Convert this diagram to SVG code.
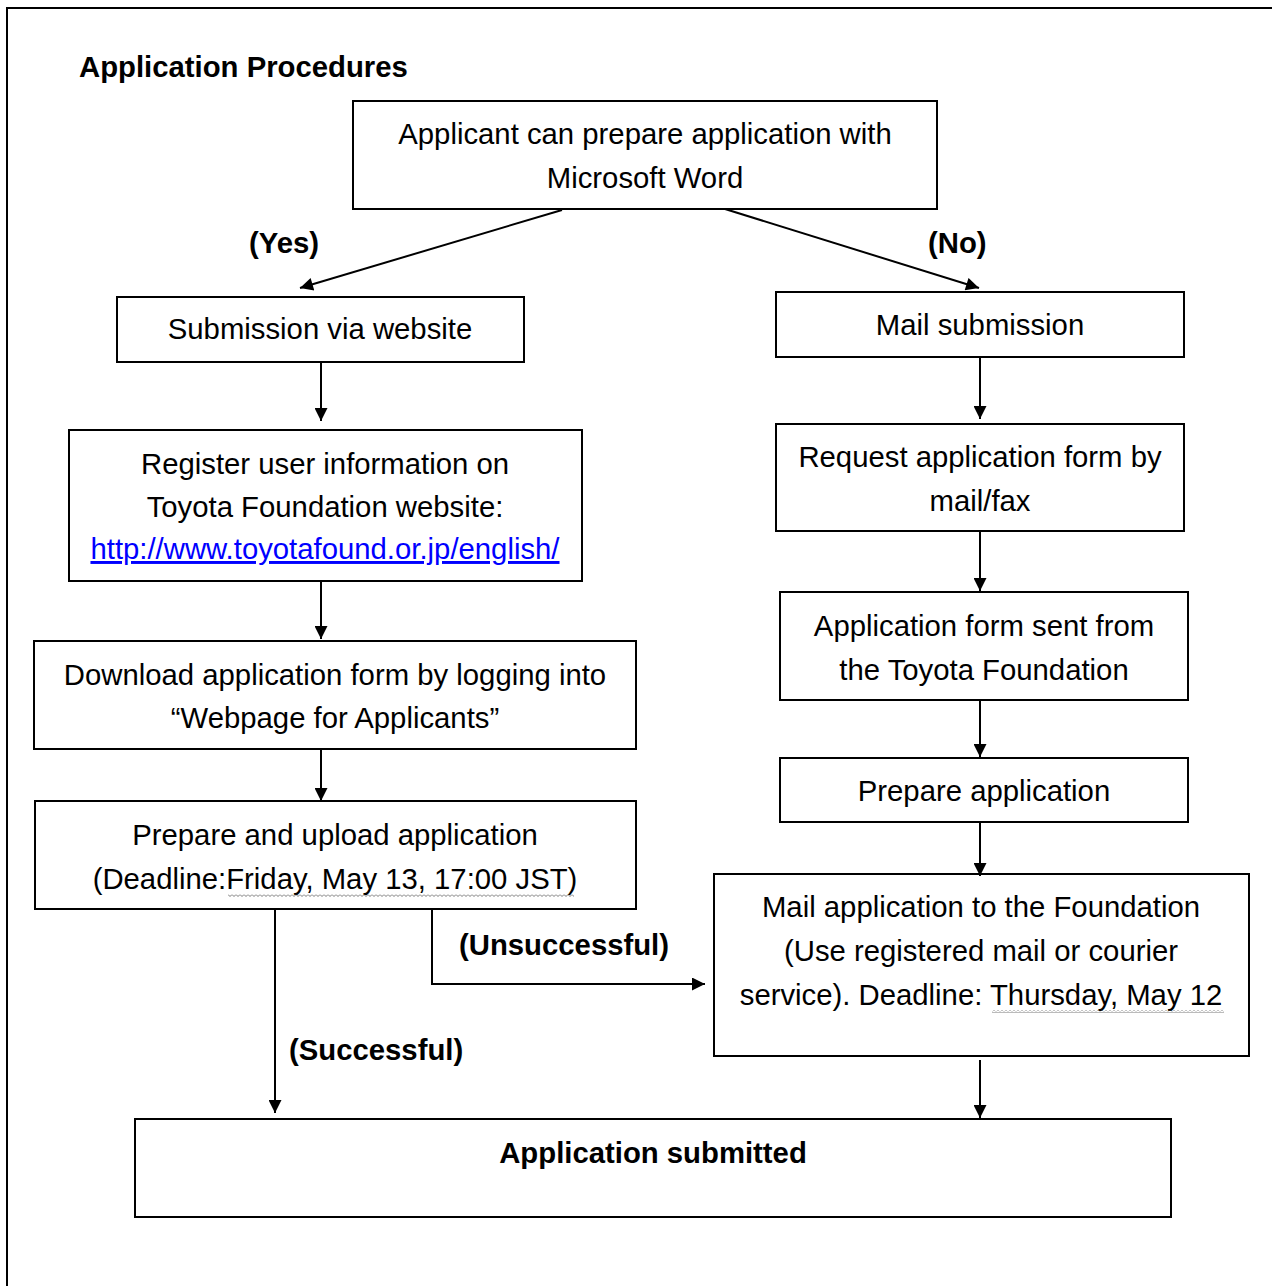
<svg xmlns="http://www.w3.org/2000/svg" width="1272" height="1286" viewBox="0 0 1272 1286">
<style>
text{font-family:"Liberation Sans",Arial,sans-serif;font-size:29.3px;fill:#000}
.c{text-anchor:middle}
.b{font-weight:bold}
.box{fill:#fff;stroke:#000;stroke-width:2}
.ln{fill:none;stroke:#000;stroke-width:2}
</style>
<defs>
<marker id="ah" viewBox="0 0 10 10" refX="10" refY="5" markerWidth="14" markerHeight="13" markerUnits="userSpaceOnUse" orient="auto">
<path d="M0,0 L10,5 L0,10 Z" fill="#000"/>
</marker>
<pattern id="sq" width="4" height="3" patternUnits="userSpaceOnUse">
<path d="M0,0.5 L2,2.5 L4,0.5" fill="none" stroke="#555" stroke-width="0.8"/>
</pattern>
</defs>
<rect width="1272" height="1286" fill="#fff"/>
<rect x="7" y="8" width="1300" height="1320" fill="none" stroke="#000" stroke-width="2"/>
<text id="title" class="b" x="79" y="77">Application Procedures</text>

<g id="n1"><rect class="box" x="353" y="101" width="584" height="108"/>
<text class="c" x="645" y="144">Applicant can prepare application with</text>
<text class="c" x="645" y="188">Microsoft Word</text></g>

<g id="n2"><rect class="box" x="117" y="297" width="407" height="65"/>
<text class="c" x="320" y="339">Submission via website</text></g>

<g id="n3"><rect class="box" x="69" y="430" width="513" height="151"/>
<text class="c" x="325" y="474">Register user information on</text>
<text class="c" x="325" y="517">Toyota Foundation website:</text>
<text class="c" x="325" y="559" style="fill:#0000ff;text-decoration:underline">http://www.toyotafound.or.jp/english/</text></g>

<g id="n4"><rect class="box" x="34" y="641" width="602" height="108"/>
<text class="c" x="335" y="685">Download application form by logging into</text>
<text class="c" x="335" y="728">“Webpage for Applicants”</text></g>

<g id="n5"><rect class="box" x="35" y="801" width="601" height="108"/>
<text class="c" x="335" y="845">Prepare and upload application</text>
<text class="c" x="335" y="889">(Deadline:Friday, May 13, 17:00 JST)</text>
<rect x="228" y="894" width="346" height="3" fill="url(#sq)"/></g>

<g id="n6"><rect class="box" x="776" y="292" width="408" height="65"/>
<text class="c" x="980" y="335">Mail submission</text></g>

<g id="n7"><rect class="box" x="776" y="424" width="408" height="107"/>
<text class="c" x="980" y="467">Request application form by</text>
<text class="c" x="980" y="511">mail/fax</text></g>

<g id="n8"><rect class="box" x="780" y="592" width="408" height="108"/>
<text class="c" x="984" y="636">Application form sent from</text>
<text class="c" x="984" y="680">the Toyota Foundation</text></g>

<g id="n9"><rect class="box" x="780" y="758" width="408" height="64"/>
<text class="c" x="984" y="801">Prepare application</text></g>

<g id="n10"><rect class="box" x="714" y="874" width="535" height="182"/>
<text class="c" x="981" y="917">Mail application to the Foundation</text>
<text class="c" x="981" y="961">(Use registered mail or courier</text>
<text class="c" x="981" y="1005">service). Deadline: Thursday, May 12</text>
<rect x="992" y="1010" width="232" height="3" fill="url(#sq)"/></g>

<g id="n11"><rect class="box" x="135" y="1119" width="1036" height="98"/>
<text class="c b" x="653" y="1163">Application submitted</text></g>

<g id="connectors">
<line class="ln" x1="562" y1="210" x2="300" y2="288" marker-end="url(#ah)"/>
<line class="ln" x1="725" y1="209" x2="979" y2="288" marker-end="url(#ah)"/>
<line class="ln" x1="321" y1="362" x2="321" y2="421" marker-end="url(#ah)"/>
<line class="ln" x1="321" y1="581" x2="321" y2="639" marker-end="url(#ah)"/>
<line class="ln" x1="321" y1="749" x2="321" y2="801" marker-end="url(#ah)"/>
<line class="ln" x1="275" y1="909" x2="275" y2="1113" marker-end="url(#ah)"/>
<polyline class="ln" points="432,909 432,984 705,984" marker-end="url(#ah)"/>
<line class="ln" x1="980" y1="357" x2="980" y2="419" marker-end="url(#ah)"/>
<line class="ln" x1="980" y1="531" x2="980" y2="591" marker-end="url(#ah)"/>
<line class="ln" x1="980" y1="700" x2="980" y2="757" marker-end="url(#ah)"/>
<line class="ln" x1="980" y1="822" x2="980" y2="876" marker-end="url(#ah)"/>
<line class="ln" x1="980" y1="1060" x2="980" y2="1118" marker-end="url(#ah)"/>
<text class="b" x="249" y="253">(Yes)</text>
<text class="b" x="928" y="253">(No)</text>
<text class="b" x="459" y="955">(Unsuccessful)</text>
<text class="b" x="289" y="1060">(Successful)</text>
</g>
</svg>
